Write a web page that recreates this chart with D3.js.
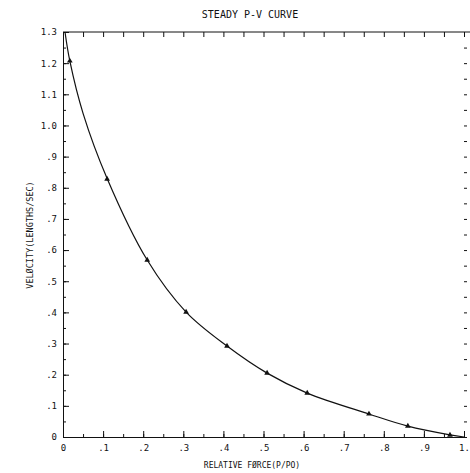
<!DOCTYPE html>
<html>
<head>
<meta charset="utf-8">
<script src="https://cdn.jsdelivr.net/npm/d3@7/dist/d3.min.js"></script>
<style>
  body { margin: 0; background: #fff; }
  text { font-family: "DejaVu Sans Mono", monospace; fill: #111; }
  .axis path, .axis line { stroke: #111; }
</style>
</head>
<body>
<div id="chart"></div>
<script>
// measured points (relative force, velocity)
const forcePts = [0.017, 0.11, 0.21, 0.307, 0.409, 0.509, 0.609, 0.763, 0.86, 0.965];
const velPts   = [1.207, 0.828, 0.568, 0.401, 0.292, 0.205, 0.141, 0.074, 0.035, 0.006];

// fitted curve
const curveForce = [0.005, 0.017, 0.05, 0.11, 0.21, 0.307, 0.409, 0.509, 0.609, 0.763, 0.86, 0.965, 1.0];
const curveVel   = [1.30, 1.207, 1.039, 0.83, 0.568, 0.401, 0.292, 0.205, 0.141, 0.074, 0.035, 0.007, 0];

const xTicks = [0, 0.1, 0.2, 0.3, 0.4, 0.5, 0.6, 0.7, 0.8, 0.9, 1.0];
const xTickLabels = ["0", ".1", ".2", ".3", ".4", ".5", ".6", ".7", ".8", ".9", "1."];
const yTicks = [0, 0.1, 0.2, 0.3, 0.4, 0.5, 0.6, 0.7, 0.8, 0.9, 1.0, 1.1, 1.2, 1.3];
const yTickLabels = ["0", ".1", ".2", ".3", ".4", ".5", ".6", ".7", ".8", ".9", "1.0", "1.1", "1.2", "1.3"];

const width = 470, height = 473;

let svg = d3.select("#chart").append("svg")
    .attr("width", width)
    .attr("height", height);

let x = d3.scaleLinear().domain([0, 1]).range([63, 464]);
let y = d3.scaleLinear().domain([0, 1.3]).range([437, 32]);

let minorX = d3.range(0, 21).map(i => i * 0.05);
let minorY = d3.range(0, 27).map(i => i * 0.05);

// bottom axis
svg.append("g").attr("class", "axis")
    .attr("transform", "translate(0," + y(0) + ")")
    .call(d3.axisBottom(x).tickValues(minorX).tickSize(-3).tickFormat(""))
    .call(g => g.select(".domain").remove());

svg.append("g").attr("class", "axis xAxis")
    .attr("transform", "translate(0," + y(0) + ")")
    .call(d3.axisBottom(x).tickValues(xTicks).tickSize(-6).tickSizeOuter(0).tickPadding(8)
        .tickFormat((d, i) => xTickLabels[i]))
    .call(g => g.selectAll("text").attr("font-size", 9).attr("font-family", "DejaVu Sans Mono"));

// left axis
svg.append("g").attr("class", "axis")
    .attr("transform", "translate(" + x(0) + ",0)")
    .call(d3.axisLeft(y).tickValues(minorY).tickSize(-3).tickFormat(""))
    .call(g => g.select(".domain").remove());

svg.append("g").attr("class", "axis yAxis")
    .attr("transform", "translate(" + x(0) + ",0)")
    .call(d3.axisLeft(y).tickValues(yTicks).tickSize(-6).tickSizeOuter(0).tickPadding(6)
        .tickFormat((d, i) => yTickLabels[i]))
    .call(g => g.selectAll("text").attr("font-size", 9).attr("font-family", "DejaVu Sans Mono"));

// top axis: ticks every .05 pointing down
svg.append("g").attr("class", "axis")
    .attr("transform", "translate(0," + y(1.3) + ")")
    .call(d3.axisBottom(x).tickValues(minorX).tickSize(5).tickFormat(""))
    .call(g => g.select(".domain").remove());

svg.append("line")
    .attr("x1", x(0)).attr("x2", 470)
    .attr("y1", y(1.3)).attr("y2", y(1.3))
    .attr("stroke", "#111");

// right side: ticks only
svg.append("g").attr("class", "axis")
    .attr("transform", "translate(467,0)")
    .call(d3.axisLeft(y).tickValues(minorY.slice(0, 26)).tickSize(3).tickFormat(""))
    .call(g => g.select(".domain").remove());

// curve
let line = d3.line()
    .x(d => x(d[0]))
    .y(d => y(d[1]))
    .curve(d3.curveCatmullRom.alpha(0.5));

svg.append("path")
    .datum(curveForce.map((f, i) => [f, curveVel[i]]))
    .attr("d", line)
    .attr("fill", "none")
    .attr("stroke", "#111")
    .attr("stroke-width", 1.2);

// points
svg.selectAll(".pt")
    .data(forcePts.map((f, i) => [f, velPts[i]]))
    .enter()
    .append("path").classed("pt", true)
    .attr("transform", d => "translate(" + x(d[0]) + "," + y(d[1]) + ")")
    .attr("d", d3.symbol().type(d3.symbolTriangle).size(14))
    .attr("fill", "#111");

// title + axis labels
svg.append("text")
    .attr("x", 250).attr("y", 18)
    .attr("text-anchor", "middle")
    .attr("font-size", 10)
    .text("STEADY P-V CURVE");

svg.append("text")
    .attr("x", 252).attr("y", 468)
    .attr("text-anchor", "middle")
    .attr("font-size", 8)
    .text("RELATIVE FØRCE(P/PO)");

svg.append("text")
    .attr("transform", "translate(33,235) rotate(-90)")
    .attr("text-anchor", "middle")
    .attr("font-size", 8.5)
    .text("VELØCITY(LENGTHS/SEC)");
</script>
</body>
</html>
